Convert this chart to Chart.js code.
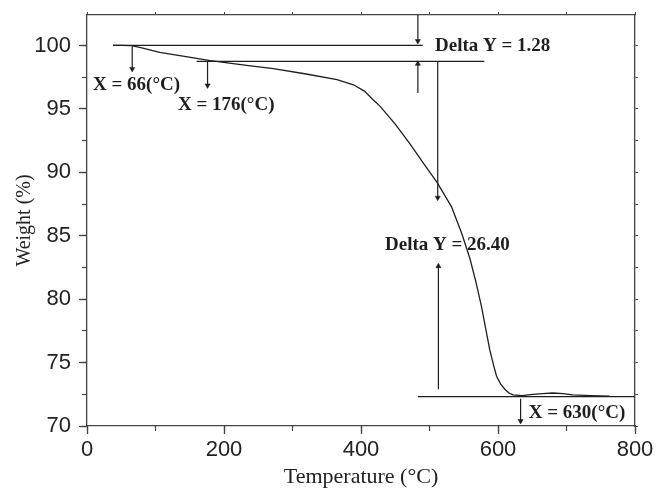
<!DOCTYPE html>
<html><head><meta charset="utf-8">
<script src="https://cdn.jsdelivr.net/npm/chart.js@4.4.0/dist/chart.umd.min.js"></script>
<style>html,body{margin:0;padding:0;background:#fff}#wrap{width:658px;height:491px}</style>
</head><body><div id="wrap"><canvas id="c" width="658" height="491"></canvas></div>
<script>
// TGA curve
const temperature = [38, 50, 65, 80, 106, 140, 180, 233, 272, 320, 365, 389, 405, 418, 428, 450, 472, 490, 511, 532, 547, 559, 568, 576, 583, 588, 594, 598, 604, 610, 616, 622, 635, 651, 665, 680, 695, 709, 735, 763];
const weight      = [100, 100, 99.98, 99.8, 99.45, 99.15, 98.8, 98.43, 98.17, 97.75, 97.3, 96.9, 96.4, 95.7, 95.2, 93.8, 92.2, 90.8, 89.2, 87.3, 85.2, 83.2, 81.3, 79.4, 77.4, 76.0, 74.7, 73.9, 73.3, 72.9, 72.6, 72.45, 72.4, 72.5, 72.55, 72.6, 72.55, 72.45, 72.4, 72.35];

// annotation level lines (y level, x start, x end)
const levelY  = [100, 98.75, 72.32];
const levelX0 = [38, 160, 483];
const levelX1 = [490, 580, 800];

// arrows (x, from y, to y)
const arrowX    = [66, 176, 483, 483, 512, 513, 633];
const arrowFrom = [100, 98.75, 102.4, 96.25, 98.75, 72.9, 72.15];
const arrowTo   = [98.15, 96.85, 100.35, 98.55, 88.0, 82.6, 70.4];

// text labels
const labelText = ['X = 66(°C)', 'X = 176(°C)', 'Delta Y = 1.28', 'Delta Y = 26.40', 'X = 630(°C)'];
const labelX    = [8.8, 132.8, 508, 435, 645];
const labelY    = [96.9, 95.3, 99.92, 84.3, 71.05];

const xTicks = [0, 200, 400, 600, 800];
const yTicks = [70, 75, 80, 85, 90, 95, 100];

const INK = '#1e1e1e';
const AXIS = '#444';

const datasets = [{
  data: temperature.map((t, i) => ({x: t, y: weight[i]})),
  showLine: true, borderColor: INK, borderWidth: 1.3, pointRadius: 0, tension: 0
}];
levelY.forEach((y, i) => datasets.push({
  data: [{x: levelX0[i], y}, {x: levelX1[i], y}],
  showLine: true, borderColor: INK, borderWidth: 1.2, pointRadius: 0
}));
arrowX.forEach((x, i) => datasets.push({
  data: [{x, y: arrowFrom[i]}, {x, y: arrowTo[i]}],
  showLine: true, borderColor: INK, borderWidth: 1.2,
  pointRadius: [0, 3], pointStyle: 'triangle',
  pointRotation: arrowTo[i] < arrowFrom[i] ? 180 : 0,
  pointBackgroundColor: INK, pointBorderColor: INK, pointBorderWidth: 0.5
}));

const labelPlugin = {
  id: 'labels',
  afterDatasetsDraw(chart) {
    const {ctx, scales: {x, y}} = chart;
    ctx.save();
    ctx.fillStyle = INK;
    ctx.font = 'bold 19px "Liberation Serif", "Times New Roman", serif';
    ctx.textAlign = 'left';
    ctx.textBaseline = 'middle';
    labelText.forEach((t, i) => ctx.fillText(t, x.getPixelForValue(labelX[i]), y.getPixelForValue(labelY[i])));
    ctx.restore();
  }
};

function noPad(s) { s.paddingTop = 0; s.paddingBottom = 0; s.paddingLeft = 0; s.paddingRight = 0; }

const tickFont = {family: '"Liberation Sans", Arial, sans-serif', size: 22};
new Chart(document.getElementById('c'), {
  type: 'scatter',
  data: {datasets},
  plugins: [labelPlugin],
  options: {
    responsive: false, animation: false, devicePixelRatio: 1,
    layout: {padding: 0},
    plugins: {legend: {display: false}, tooltip: {enabled: false}},
    scales: {
      x: {
        type: 'linear', position: 'bottom', min: 0, max: 800, weight: 1,
        afterBuildTicks(s) { s.ticks = xTicks.map(v => ({value: v})); },
        ticks: {color: '#222', font: tickFont, padding: 3, maxRotation: 0, autoSkip: false},
        grid: {display: true, drawOnChartArea: false, drawTicks: true, tickLength: 8, tickColor: AXIS, tickWidth: 1.3},
        border: {display: true, color: AXIS, width: 1.3},
        title: {display: true, text: 'Temperature (°C)', color: '#222',
                font: {family: '"Liberation Serif", "Times New Roman", serif', size: 22}, padding: {top: 0, bottom: 1}},
        afterFit(s) { s.height = 65; noPad(s); }
      },
      xMinor: {
        type: 'linear', position: 'bottom', min: 0, max: 800, weight: 0,
        ticks: {display: false, stepSize: 100, autoSkip: false},
        grid: {display: true, drawOnChartArea: false, tickLength: 5, tickColor: AXIS, tickWidth: 1.2},
        border: {display: false},
        afterFit(s) { s.height = 0; noPad(s); }
      },
      xTop: {
        type: 'linear', position: 'top', min: 0, max: 800,
        ticks: {display: false, stepSize: 100, autoSkip: false},
        grid: {display: true, drawOnChartArea: false, tickLength: 3, tickColor: AXIS, tickWidth: 1},
        border: {display: true, color: AXIS, width: 1.3},
        afterFit(s) { s.height = 15; noPad(s); }
      },
      y: {
        type: 'linear', position: 'left', min: 70, max: 102.4, weight: 1,
        afterBuildTicks(s) { s.ticks = yTicks.map(v => ({value: v})); },
        ticks: {color: '#222', font: tickFont, padding: 8, autoSkip: false},
        grid: {display: true, drawOnChartArea: false, drawTicks: true, tickLength: 8, tickColor: AXIS, tickWidth: 1.3},
        border: {display: true, color: AXIS, width: 1.3},
        title: {display: true, text: 'Weight (%)', color: '#222',
                font: {family: '"Liberation Serif", "Times New Roman", serif', size: 20}, padding: {top: 13, bottom: 0}},
        afterFit(s) { s.width = 87; noPad(s); }
      },
      yMinor: {
        type: 'linear', position: 'left', min: 70, max: 102.4, weight: 0,
        ticks: {display: false, stepSize: 2.5, includeBounds: false, autoSkip: false},
        grid: {display: true, drawOnChartArea: false, tickLength: 5, tickColor: AXIS, tickWidth: 1.2},
        border: {display: false},
        afterFit(s) { s.width = 0; noPad(s); }
      },
      yRight: {
        type: 'linear', position: 'right', min: 70, max: 102.4,
        ticks: {display: false, stepSize: 2.5, includeBounds: false, autoSkip: false},
        grid: {display: true, drawOnChartArea: false, tickLength: 3, tickColor: AXIS, tickWidth: 1},
        border: {display: true, color: AXIS, width: 1.3},
        afterFit(s) { s.width = 23; noPad(s); }
      }
    }
  }
});
</script></body></html>
